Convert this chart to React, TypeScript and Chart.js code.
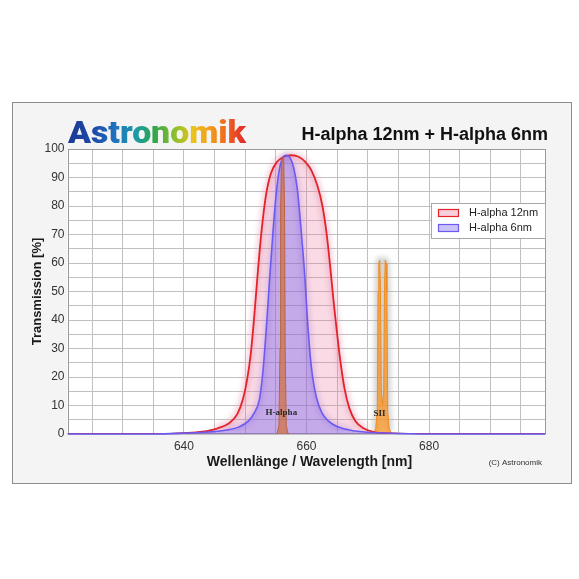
import React, { useEffect, useRef } from "react";
import { Chart, registerables } from "chart.js";

Chart.register(...registerables);

// ---- data ----
const red12Nm = [621, 636, 640, 643, 645.5, 647.5, 648.7, 649.6, 650.3, 650.9, 651.5, 652.1, 652.7, 653.4, 654.2, 655.2, 656.3, 657.5, 658.7, 659.8, 660.8, 661.8, 662.6, 663.3, 663.9, 664.4, 664.9, 665.5, 666.2, 667, 668, 669.3, 671, 674, 680, 699];
const red12T = [0, 0, 0.3, 0.8, 2, 4, 7, 12, 19, 28, 42, 58, 72, 84, 91.5, 95.5, 97.3, 97.8, 97.3, 95.5, 92.5, 87, 80, 70, 58, 47, 37, 26, 16, 9, 4.5, 2, 0.7, 0.2, 0, 0];

const blue6Nm = [621, 635, 640, 644, 647, 649, 650.5, 651.5, 652.3, 652.8, 653.2, 653.6, 654.0, 654.5, 655.0, 655.5, 656.1, 656.7, 657.3, 657.9, 658.5, 659.1, 659.7, 660.1, 660.5, 661.0, 661.6, 662.5, 663.6, 665, 667, 670, 675, 682, 699];
const blue6T = [0, 0, 0.3, 0.7, 1.4, 2.5, 4.5, 7.5, 12, 20, 30, 42, 55, 70, 83, 92, 96.8, 97.8, 97, 93.5, 86, 72, 56, 42, 30, 20, 13, 7.5, 4.5, 2.6, 1.4, 0.6, 0.2, 0, 0];

const hAlphaNm = [655.2, 655.5, 655.68, 655.78, 655.92, 656.1, 656.28, 656.42, 656.52, 656.7, 657.0];
const hAlphaT = [0, 3, 30, 80, 96, 97, 96, 80, 30, 3, 0];

const siiNm = [670.9, 671.3, 671.55, 671.68, 671.8, 671.95, 672.08, 672.2, 672.4, 672.6, 672.72, 672.85, 673.0, 673.12, 673.25, 673.5, 673.9];
const siiT = [0, 2, 8, 50, 60, 61, 50, 15, 10, 15, 50, 61, 60, 50, 8, 2, 0];

const xGridTicks = [625, 630, 635, 640, 645, 650, 655, 660, 665, 670, 675, 680, 685, 690, 695];
const xLabelTicks = [640, 660, 680];
const yLabelStep = 10;

const seriesLabels = ["H-alpha 12nm", "H-alpha 6nm"];
const chartTitle = "H-alpha 12nm + H-alpha 6nm";
const logoText = "Astronomik";
const xTitle = "Wellenlänge / Wavelength [nm]";
const yTitle = "Transmission [%]";
const copyright = "(C) Astronomik";
const lineLabels = [
  { text: "H-alpha", x: 655.9, y: 7.5 },
  { text: "SII", x: 671.9, y: 7 },
];

const zip = (xs: number[], ys: number[]) => xs.map((x, i) => ({ x, y: ys[i] }));

const RED = "#e3222a";
const RED_FILL = "rgba(235,110,150,0.25)";
const BLUE = "#6a5af0";
const BLUE_FILL = "rgba(110,90,240,0.38)";

// soft halo colours drawn under each curve
const halos: { [label: string]: string } = {
  "H-alpha 12nm": "rgba(232,170,192,0.5)",
  "H-alpha 6nm": "rgba(150,130,230,0.3)",
  SII: "rgba(170,170,170,0.5)",
};

const decor = {
  id: "decor",
  beforeDraw(chart: any) {
    const { ctx, chartArea: a } = chart;
    ctx.save();
    ctx.fillStyle = "#ffffff";
    ctx.fillRect(0, 0, chart.width, chart.height);
    ctx.fillStyle = "#f4f4f4";
    ctx.fillRect(12.5, 102.5, 559, 381);
    ctx.strokeStyle = "#8c8c8c";
    ctx.lineWidth = 1;
    ctx.strokeRect(12.5, 102.5, 559, 381);
    ctx.fillStyle = "#ffffff";
    ctx.fillRect(a.left, a.top, a.right - a.left, a.bottom - a.top);
    ctx.restore();
  },
  beforeDatasetsDraw(chart: any) {
    const { ctx, chartArea: a } = chart;
    ctx.save();
    ctx.strokeStyle = "#9a9a9a";
    ctx.lineWidth = 1;
    ctx.strokeRect(Math.round(a.left) + 0.5, Math.round(a.top) + 0.5, Math.round(a.right - a.left) - 1, Math.round(a.bottom - a.top) - 1);
    ctx.restore();

    // halos (only where the curve is above the baseline)
    ctx.save();
    ctx.beginPath();
    ctx.rect(a.left, a.top, a.right - a.left, a.bottom - 3 - a.top);
    ctx.clip();
    ctx.filter = "blur(2.5px)";
    chart.data.datasets.forEach((ds: any, i: number) => {
      const col = halos[ds.label];
      if (!col) return;
      const pts = chart.getDatasetMeta(i).data;
      const vals = ds.data;
      ctx.beginPath();
      let started = false;
      pts.forEach((p: any, k: number) => {
        if (vals[k].y < 1) return;
        if (!started) {
          ctx.moveTo(p.x, p.y);
          started = true;
        } else ctx.lineTo(p.x, p.y);
      });
      ctx.strokeStyle = col;
      ctx.lineWidth = 7;
      ctx.lineJoin = "round";
      ctx.lineCap = "round";
      ctx.stroke();
    });
    ctx.restore();
  },
  afterDatasetsDraw(chart: any) {
    const { ctx } = chart;
    const xs = chart.scales.x;
    const ys = chart.scales.y;
    ctx.save();
    ctx.font = "bold 9px 'Liberation Serif', serif";
    ctx.fillStyle = "#2a2a2a";
    ctx.textAlign = "center";
    ctx.textBaseline = "middle";
    for (const l of lineLabels) {
      ctx.fillText(l.text, xs.getPixelForValue(l.x), ys.getPixelForValue(l.y));
    }
    ctx.restore();
  },
  afterDraw(chart: any) {
    const { ctx, chartArea: a } = chart;
    ctx.save();
    // logo
    ctx.font = "900 32px Roboto, 'DejaVu Sans', sans-serif";
    const w = ctx.measureText(logoText).width;
    ctx.save();
    ctx.translate(68, 143);
    ctx.scale(178 / w, 1);
    const g = ctx.createLinearGradient(0, 0, w, 0);
    g.addColorStop(0, "#1b3a94");
    g.addColorStop(0.14, "#1d4aa8");
    g.addColorStop(0.27, "#1f74c0");
    g.addColorStop(0.38, "#1a9aa8");
    g.addColorStop(0.48, "#2ea64c");
    g.addColorStop(0.6, "#8cbf2c");
    g.addColorStop(0.7, "#e9c41c");
    g.addColorStop(0.8, "#f29c1c");
    g.addColorStop(0.9, "#ee6020");
    g.addColorStop(1, "#e0282c");
    ctx.fillStyle = g;
    ctx.textAlign = "left";
    ctx.textBaseline = "alphabetic";
    ctx.fillText(logoText, 0, 0);
    ctx.restore();

    // title
    ctx.font = "bold 18px 'Liberation Sans', Arial, sans-serif";
    ctx.fillStyle = "#111";
    ctx.textAlign = "right";
    ctx.textBaseline = "alphabetic";
    ctx.fillText(chartTitle, 548, 140);

    // axis titles
    ctx.font = "bold 14px 'Liberation Sans', Arial, sans-serif";
    ctx.fillStyle = "#1a1a1a";
    ctx.textAlign = "center";
    ctx.textBaseline = "middle";
    ctx.fillText(xTitle, (a.left + a.right) / 2 + 3, 462);
    ctx.save();
    ctx.translate(37, (a.top + a.bottom) / 2);
    ctx.rotate(-Math.PI / 2);
    ctx.font = "bold 13px 'Liberation Sans', Arial, sans-serif";
    ctx.fillText(yTitle, 0, 0);
    ctx.restore();

    // copyright
    ctx.font = "8px 'Liberation Sans', Arial, sans-serif";
    ctx.fillStyle = "#333";
    ctx.textAlign = "right";
    ctx.fillText(copyright, 542, 463);

    // legend
    const lx = 431.5, ly = 203.5, lw = 114, lh = 35;
    ctx.fillStyle = "#ffffff";
    ctx.fillRect(lx, ly, lw, lh);
    ctx.strokeStyle = "#a8a8a8";
    ctx.lineWidth = 1;
    ctx.strokeRect(lx, ly, lw, lh);
    const items = [
      { label: seriesLabels[0], stroke: RED, fill: "rgba(240,150,175,0.45)", cy: 213 },
      { label: seriesLabels[1], stroke: BLUE, fill: "rgba(150,135,245,0.5)", cy: 228 },
    ];
    ctx.font = "11px 'Liberation Sans', Arial, sans-serif";
    ctx.textAlign = "left";
    ctx.textBaseline = "middle";
    for (const it of items) {
      ctx.fillStyle = it.fill;
      ctx.fillRect(438.5, it.cy - 3.5, 20, 7);
      ctx.strokeStyle = it.stroke;
      ctx.lineWidth = 1.2;
      ctx.strokeRect(438.5, it.cy - 3.5, 20, 7);
      ctx.fillStyle = "#222";
      ctx.fillText(it.label, 469, it.cy);
    }
    ctx.restore();
  },
};

export default function App() {
  const ref = useRef<HTMLCanvasElement>(null);
  useEffect(() => {
    const canvas = ref.current!;
    const chart = new Chart(canvas, {
      type: "line",
      data: {
        datasets: [
          {
            label: "H-alpha line",
            data: zip(hAlphaNm, hAlphaT),
            borderColor: "rgba(185,95,55,0.9)",
            backgroundColor: "rgba(205,110,60,0.7)",
            borderWidth: 1,
            fill: "origin",
            pointRadius: 0,
            tension: 0,
            order: -1,
          },
          {
            label: seriesLabels[1],
            data: zip(blue6Nm, blue6T),
            borderColor: BLUE,
            backgroundColor: BLUE_FILL,
            borderWidth: 1.6,
            fill: "origin",
            pointRadius: 0,
            cubicInterpolationMode: "monotone",
            clip: { left: 0, top: 0, right: 0, bottom: 2 },
            order: 0,
          },
          {
            label: seriesLabels[0],
            data: zip(red12Nm, red12T),
            borderColor: RED,
            backgroundColor: RED_FILL,
            borderWidth: 1.8,
            fill: "origin",
            pointRadius: 0,
            cubicInterpolationMode: "monotone",
            order: 1,
          },
          {
            label: "SII",
            data: zip(siiNm, siiT),
            borderColor: "#f08c1e",
            backgroundColor: "rgba(245,150,45,0.8)",
            borderWidth: 1,
            fill: "origin",
            pointRadius: 0,
            tension: 0,
            order: 3,
          },
        ],
      },
      options: {
        responsive: false,
        devicePixelRatio: 1,
        animation: false,
        events: [],
        layout: { padding: { left: 0, top: 149, right: 33.5, bottom: 0 } },
        plugins: {
          legend: { display: false },
          tooltip: { enabled: false },
          title: { display: false },
        },
        scales: {
          x: {
            type: "linear",
            min: 621,
            max: 699,
            afterBuildTicks: (scale: any) => {
              scale.ticks = xGridTicks.map((v) => ({ value: v }));
            },
            afterFit: (scale: any) => {
              scale.height = 145;
            },
            grid: { color: "#c0c0c0", lineWidth: 1, drawTicks: false },
            border: { display: false },
            ticks: {
              autoSkip: false,
              maxRotation: 0,
              padding: 5,
              color: "#333",
              font: { family: "'Liberation Sans', Arial, sans-serif", size: 12 },
              callback: (v: any) => (xLabelTicks.includes(Number(v)) ? String(v) : ""),
            },
          },
          y: {
            type: "linear",
            min: 0,
            max: 100,
            afterFit: (scale: any) => {
              scale.width = 67.5;
            },
            grid: { color: "#c0c0c0", lineWidth: 1, drawTicks: false },
            border: { display: false },
            ticks: {
              stepSize: 5,
              autoSkip: false,
              padding: 3,
              color: "#333",
              font: { family: "'Liberation Sans', Arial, sans-serif", size: 12 },
              callback: (v: any) => (Number(v) % yLabelStep === 0 ? String(v) : ""),
            },
          },
        },
      },
      plugins: [decor],
    } as any);
    return () => chart.destroy();
  }, []);
  return (
    <div style={{ position: "fixed", left: 0, top: 0, width: 579, height: 579, background: "#fff" }}>
      <canvas ref={ref} width={579} height={579} style={{ display: "block", width: 579, height: 579 }} />
    </div>
  );
}
